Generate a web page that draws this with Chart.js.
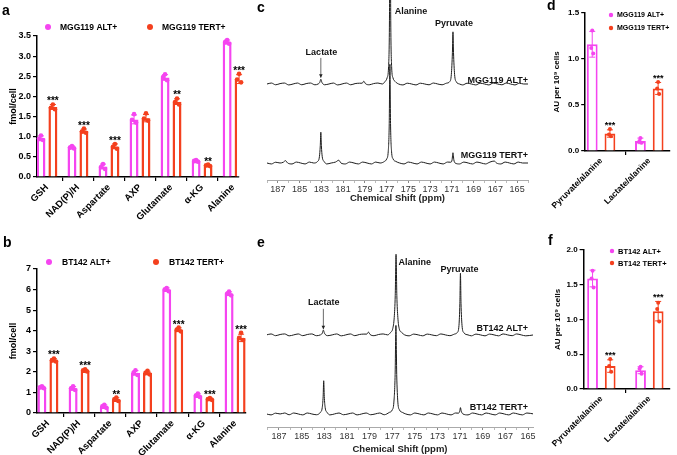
<!DOCTYPE html>
<html>
<head>
<meta charset="utf-8">
<script src="https://cdn.jsdelivr.net/npm/chart.js@4.4.1/dist/chart.umd.min.js"></script>
<style>
  body { margin: 0; background: #fff; }
  #wrap { position: relative; width: 677px; height: 455px; overflow: hidden; font-family: "Liberation Sans", Arial, sans-serif; }
  canvas { position: absolute; }
  .tag { position: absolute; font-weight: bold; font-size: 14px; line-height: 14px; color: #000; }
</style>
</head>
<body>
<div id="wrap">
  <canvas id="chartA" style="left:0;top:0" width="250" height="225"></canvas>
  <canvas id="chartB" style="left:0;top:225px" width="250" height="230"></canvas>
  <canvas id="chartC" style="left:250px;top:0" width="295" height="225"></canvas>
  <canvas id="chartE" style="left:250px;top:225px" width="295" height="230"></canvas>
  <canvas id="chartD" style="left:545px;top:0" width="132" height="225"></canvas>
  <canvas id="chartF" style="left:545px;top:225px" width="132" height="230"></canvas>
  <div class="tag" style="left:2px;top:3px">a</div>
  <div class="tag" style="left:3px;top:235px">b</div>
  <div class="tag" style="left:257px;top:0px">c</div>
  <div class="tag" style="left:547px;top:-2px">d</div>
  <div class="tag" style="left:257px;top:235px">e</div>
  <div class="tag" style="left:548px;top:233px">f</div>
</div>
<script>
// ---- data: metabolite levels (panels a, b) ----
var metCats = ['GSH', 'NAD(P)/H', 'Aspartate', 'AXP', 'Glutamate', 'α-KG', 'Alanine'];

var aAlt = [0.96, 0.74, 0.26, 1.43, 2.47, 0.40, 3.35];
var aTert = [1.74, 1.14, 0.76, 1.46, 1.87, 0.29, 2.43];
var aAltSd = [0.06, 0.03, 0.06, 0.11, 0.07, 0.02, 0.05];
var aTertSd = [0.06, 0.05, 0.06, 0.09, 0.07, 0.02, 0.11];
var aAltPts = [[1.03, 0.95, 0.92], [0.77, 0.73, 0.71], [0.32, 0.25, 0.20], [1.56, 1.42, 1.35], [2.55, 2.48, 2.40], [0.42, 0.40, 0.38], [3.40, 3.35, 3.31]];
var aTertPts = [[1.80, 1.72, 1.68], [1.20, 1.13, 1.10], [0.82, 0.75, 0.70], [1.58, 1.45, 1.40], [1.95, 1.86, 1.80], [0.31, 0.29, 0.27], [2.56, 2.42, 2.35]];
var aStars = ['***', '***', '***', '', '**', '**', '***'];

var bAlt = [1.25, 1.20, 0.32, 1.95, 6.00, 0.85, 5.80];
var bTert = [2.57, 2.07, 0.66, 1.95, 4.05, 0.68, 3.65];
var bAltSd = [0.05, 0.09, 0.07, 0.11, 0.08, 0.08, 0.09];
var bTertSd = [0.07, 0.05, 0.08, 0.08, 0.09, 0.04, 0.18];
var bAltPts = [[1.30, 1.25, 1.20], [1.30, 1.20, 1.12], [0.40, 0.32, 0.25], [2.08, 1.95, 1.85], [6.08, 6.00, 5.92], [0.95, 0.85, 0.78], [5.90, 5.80, 5.72]];
var bTertPts = [[2.65, 2.57, 2.50], [2.12, 2.07, 2.02], [0.75, 0.66, 0.58], [2.05, 1.95, 1.88], [4.15, 4.05, 3.97], [0.73, 0.68, 0.64], [3.90, 3.65, 3.55]];
var bStars = ['***', '***', '**', '', '***', '***', '***'];

// ---- data: ratios (panels d, f) ----
var ratioCats = ['Pyruvate/alanine', 'Lactate/alanine'];

var dAlt = [1.16, 0.11];
var dTert = [0.19, 0.68];
var dAltSd = [0.14, 0.03];
var dTertSd = [0.04, 0.065];
var dAltPts = [[1.31, 1.12, 1.06], [0.14, 0.11, 0.09]];
var dTertPts = [[0.24, 0.18, 0.16], [0.75, 0.68, 0.62]];
var dStars = ['***', '***'];

var fAlt = [1.59, 0.27];
var fTert = [0.33, 1.12];
var fAltSd = [0.12, 0.05];
var fTertSd = [0.09, 0.14];
var fAltPts = [[1.70, 1.59, 1.46], [0.32, 0.29, 0.22]];
var fTertPts = [[0.43, 0.33, 0.25], [1.24, 1.15, 0.97]];
var fStars = ['***', '***'];

// ---- data: 13C spectra, [ppm, intensity above own baseline] (panels c, e) ----
var cAltSpec = [[188.0, 0.00], [187.6, 0.012], [187.2, -0.01], [186.8, 0.005], [186.4, 0.012], [186.0, -0.012], [185.6, 0.00], [185.2, 0.012], [184.8, -0.01], [184.4, 0.005], [184.0, 0.012], [183.6, -0.01], [183.3, 0.00], [183.15, 0.02], [183.05, 0.06], [182.95, 0.02], [182.7, -0.01], [182.3, 0.00], [181.9, 0.012], [181.5, -0.012], [181.1, 0.00], [180.7, 0.012], [180.3, -0.01], [179.9, 0.005], [179.5, 0.01], [179.25, 0.01], [179.1, 0.035], [178.95, 0.005], [178.6, -0.01], [178.2, 0.005], [177.8, 0.012], [177.4, 0.00], [177.15, 0.03], [176.95, 0.08], [176.82, 0.22], [176.74, 0.8], [176.68, 2.4], [176.62, 0.8], [176.54, 0.22], [176.42, 0.08], [176.2, 0.03], [175.9, 0.00], [175.5, -0.012], [175.1, 0.01], [174.7, 0.00], [174.3, -0.012], [173.9, 0.01], [173.5, 0.00], [173.1, -0.01], [172.7, 0.012], [172.3, 0.00], [171.9, -0.01], [171.5, 0.01], [171.2, 0.03], [171.05, 0.12], [170.95, 0.4], [170.9, 0.66], [170.85, 0.4], [170.75, 0.12], [170.6, 0.03], [170.3, 0.00], [170.0, -0.012], [169.6, 0.01], [169.2, 0.00], [168.8, -0.012], [168.4, 0.01], [168.0, 0.00], [167.6, -0.012], [167.2, 0.012], [166.8, 0.00], [166.4, -0.01], [166.0, 0.012], [165.6, 0.00], [165.2, -0.012], [164.8, 0.01], [164.4, 0.00], [164.0, 0.00]];
var cTertSpec = [[188.0, 0.00], [187.6, -0.012], [187.2, 0.01], [186.8, 0.00], [186.5, 0.01], [186.3, 0.03], [186.1, 0.00], [185.7, -0.012], [185.3, 0.012], [184.9, 0.00], [184.5, -0.012], [184.1, 0.012], [183.7, 0.00], [183.35, 0.02], [183.18, 0.08], [183.1, 0.22], [183.05, 0.39], [183.0, 0.22], [182.92, 0.08], [182.75, 0.02], [182.5, -0.012], [182.1, 0.00], [181.7, 0.012], [181.4, 0.035], [181.2, 0.00], [180.8, -0.012], [180.4, 0.012], [180.0, 0.00], [179.6, -0.012], [179.2, 0.012], [178.8, 0.00], [178.4, -0.012], [178.0, 0.012], [177.6, 0.00], [177.2, 0.02], [177.0, 0.05], [176.85, 0.15], [176.76, 0.5], [176.7, 1.25], [176.64, 0.5], [176.55, 0.15], [176.4, 0.05], [176.15, 0.02], [175.8, 0.00], [175.4, -0.012], [175.0, 0.012], [174.6, 0.00], [174.2, -0.012], [173.8, 0.012], [173.4, 0.00], [173.0, -0.012], [172.6, 0.012], [172.2, 0.00], [171.8, -0.012], [171.4, 0.012], [171.1, 0.01], [170.98, 0.04], [170.9, 0.13], [170.82, 0.04], [170.7, 0.00], [170.3, -0.012], [169.9, 0.012], [169.5, 0.00], [169.1, -0.012], [168.7, 0.012], [168.3, 0.00], [167.9, -0.012], [167.5, 0.012], [167.1, 0.025], [166.9, 0.00], [166.5, -0.012], [166.1, 0.012], [165.7, 0.00], [165.3, -0.012], [164.9, 0.012], [164.5, 0.00], [164.0, 0.00]];

var eAltSpec = [[188.1, 0.00], [187.7, 0.012], [187.3, -0.01], [186.9, 0.005], [186.5, 0.012], [186.1, -0.012], [185.7, 0.00], [185.3, 0.012], [184.9, -0.01], [184.5, 0.005], [184.1, 0.012], [183.7, -0.01], [183.35, 0.00], [183.18, 0.02], [183.08, 0.06], [182.98, 0.02], [182.7, -0.01], [182.3, 0.00], [181.9, 0.012], [181.5, -0.012], [181.1, 0.00], [180.7, 0.012], [180.3, -0.01], [179.9, 0.005], [179.5, 0.01], [179.25, 0.01], [179.1, 0.035], [178.95, 0.005], [178.6, -0.01], [178.2, 0.005], [177.8, 0.012], [177.4, 0.00], [177.15, 0.03], [176.95, 0.08], [176.82, 0.22], [176.73, 0.5], [176.66, 1.02], [176.59, 0.5], [176.5, 0.22], [176.38, 0.08], [176.15, 0.03], [175.9, 0.00], [175.5, -0.012], [175.1, 0.01], [174.7, 0.00], [174.3, -0.012], [173.9, 0.01], [173.5, 0.00], [173.1, -0.01], [172.7, 0.012], [172.3, 0.00], [171.9, -0.01], [171.5, 0.01], [171.25, 0.03], [171.1, 0.12], [171.02, 0.4], [170.97, 0.78], [170.92, 0.4], [170.83, 0.12], [170.68, 0.03], [170.3, 0.00], [170.0, -0.012], [169.6, 0.01], [169.2, 0.00], [168.8, -0.012], [168.4, 0.01], [168.0, 0.00], [167.6, -0.012], [167.2, 0.012], [166.8, 0.00], [166.4, -0.01], [166.0, 0.012], [165.6, 0.00], [165.2, -0.012], [164.5, 0.00]];
var eTertSpec = [[188.1, 0.00], [187.7, -0.012], [187.3, 0.01], [186.9, 0.00], [186.5, 0.012], [186.1, -0.01], [185.7, 0.012], [185.3, 0.00], [184.9, -0.012], [184.5, 0.012], [184.1, 0.00], [183.7, -0.01], [183.35, 0.02], [183.18, 0.08], [183.1, 0.22], [183.05, 0.42], [183.0, 0.22], [182.92, 0.08], [182.75, 0.02], [182.5, -0.012], [182.1, 0.00], [181.7, 0.012], [181.3, -0.01], [180.9, 0.00], [180.5, 0.012], [180.1, -0.012], [179.7, 0.00], [179.3, 0.012], [178.9, -0.01], [178.5, 0.00], [178.1, 0.012], [177.7, -0.01], [177.25, 0.02], [177.0, 0.05], [176.85, 0.15], [176.74, 0.5], [176.67, 1.12], [176.6, 0.5], [176.5, 0.15], [176.35, 0.05], [176.1, 0.02], [175.8, 0.00], [175.4, -0.012], [175.0, 0.012], [174.6, 0.00], [174.2, -0.012], [173.8, 0.012], [173.4, 0.00], [173.0, -0.012], [172.6, 0.012], [172.2, 0.00], [171.8, -0.012], [171.4, 0.012], [171.15, 0.01], [171.03, 0.035], [170.97, 0.08], [170.9, 0.035], [170.75, 0.00], [170.3, -0.012], [169.9, 0.012], [169.5, 0.00], [169.1, -0.012], [168.7, 0.012], [168.3, 0.00], [167.9, -0.012], [167.5, 0.012], [167.1, 0.00], [166.7, -0.012], [166.3, 0.012], [165.9, 0.00], [165.5, -0.012], [165.1, 0.012], [164.5, 0.00]];
var specOffset = 1.0; // ALT+ trace is stacked one unit above TERT+

var ALT = '#f545f0';
var TERT = '#f4401e';
var FONT = '"Liberation Sans", Arial, sans-serif';
var jitter = [0, -1, 1];

Chart.defaults.font.family = FONT;
Chart.defaults.color = '#000';

function pairs(vals) {
  return vals.map(function (v, i) { return { x: i, y: v }; });
}

// error bars, replicate dots, significance stars and legend for the bar panels
function barExtras(o) {
  return {
    id: 'barExtras',
    afterDatasetsDraw: function (chart) {
      var ctx = chart.ctx, ys = chart.scales.y;
      var cols = [ALT, TERT];
      ctx.save();
      [0, 1].forEach(function (d) {
        var meta = chart.getDatasetMeta(d);
        var data = chart.data.datasets[d].data;
        meta.data.forEach(function (bar, i) {
          var v = data[i].y, sd = o.sd[d][i], pts = o.pts[d][i];
          var top = ys.getPixelForValue(v + sd), bot = ys.getPixelForValue(v - sd);
          ctx.strokeStyle = cols[d];
          ctx.lineWidth = 1;
          ctx.beginPath();
          ctx.moveTo(bar.x, top); ctx.lineTo(bar.x, bot);
          ctx.moveTo(bar.x - o.cap, top); ctx.lineTo(bar.x + o.cap, top);
          ctx.moveTo(bar.x - o.cap, bot); ctx.lineTo(bar.x + o.cap, bot);
          ctx.stroke();
          ctx.fillStyle = cols[d];
          pts.forEach(function (p, k) {
            ctx.beginPath();
            ctx.arc(bar.x + jitter[k] * o.jit, ys.getPixelForValue(p), o.r, 0, Math.PI * 2);
            ctx.fill();
          });
          if (d === 1 && o.stars[i]) {
            var hi = Math.max(v + sd, Math.max.apply(null, pts));
            ctx.fillStyle = '#000';
            ctx.font = o.starFont;
            ctx.textAlign = 'center';
            ctx.textBaseline = 'alphabetic';
            ctx.fillText(o.stars[i], bar.x, ys.getPixelForValue(hi) + o.starDy);
          }
        });
      });
      o.legend.forEach(function (it, k) {
        ctx.fillStyle = cols[k];
        ctx.beginPath();
        ctx.arc(it.x, it.y, it.r, 0, Math.PI * 2);
        ctx.fill();
        ctx.fillStyle = '#000';
        ctx.font = o.legendFont;
        ctx.textAlign = 'left';
        ctx.textBaseline = 'middle';
        ctx.fillText(it.text, it.x + it.gap, it.y + 0.5);
      });
      ctx.restore();
    }
  };
}

function barChart(id, cats, alt, tert, opt) {
  return new Chart(document.getElementById(id), {
    type: 'bar',
    data: {
      datasets: [
        { label: opt.names[0], data: pairs(alt), backgroundColor: '#fff', borderColor: ALT, borderWidth: opt.bw,
          categoryPercentage: opt.catPct, barPercentage: opt.barPct },
        { label: opt.names[1], data: pairs(tert), backgroundColor: '#fff', borderColor: TERT, borderWidth: opt.bw,
          categoryPercentage: opt.catPct, barPercentage: opt.barPct }
      ]
    },
    options: {
      responsive: false,
      animation: false,
      devicePixelRatio: 1,
      layout: { padding: opt.pad },
      plugins: { legend: { display: false }, tooltip: { enabled: false } },
      scales: {
        x: {
          type: 'linear', min: opt.xMin, max: opt.xMax, offset: false,
          afterBuildTicks: function (s) { s.ticks = cats.map(function (c, i) { return { value: i }; }); },
          afterFit: function (s) { s.height = opt.xH; },
          ticks: { autoSkip: false, minRotation: 45, maxRotation: 45, padding: 1,
            font: { size: opt.xTickSize, weight: 'bold' }, color: '#000',
            callback: function (v) { return cats[v]; } },
          grid: { display: true, drawOnChartArea: false, tickLength: 4, color: '#000', lineWidth: 1.2 },
          border: { display: true, color: '#000', width: 1.5 }
        },
        y: {
          min: 0, max: opt.yMax,
          afterFit: function (s) { s.width = opt.yW; },
          ticks: { stepSize: opt.yStep, padding: 2, font: { size: opt.yTickSize, weight: 'bold' }, color: '#000',
            callback: opt.yFmt },
          grid: { display: true, drawOnChartArea: false, tickLength: 4, color: '#000', lineWidth: 1.2 },
          border: { display: true, color: '#000', width: 1.5 },
          title: { display: true, text: opt.yTitle, font: { size: opt.titleSize, weight: 'bold' }, color: '#000', padding: { top: 0, bottom: 2 } }
        }
      }
    },
    plugins: [barExtras(opt.extras)]
  });
}

var oneDec = function (v) { return v.toFixed(1); };
var intFmt = function (v) { return String(v); };

barChart('chartA', metCats, aAlt, aTert, {
  names: ['MGG119 ALT+', 'MGG119 TERT+'], bw: 2.5, catPct: 0.77, barPct: 0.75,
  pad: { left: 8, top: 36, right: 11, bottom: 0 }, xMin: -0.32, xMax: 6.19, xH: 48, yW: 29,
  yMax: 3.5, yStep: 0.5, yFmt: oneDec, xTickSize: 9.5, yTickSize: 9, titleSize: 9, yTitle: 'fmol/cell',
  extras: { sd: [aAltSd, aTertSd], pts: [aAltPts, aTertPts], stars: aStars, cap: 3, jit: 2, r: 2.3,
    starFont: 'bold 10px ' + FONT, starDy: 0,
    legendFont: 'bold 8.5px ' + FONT,
    legend: [{ x: 48, y: 27, r: 3, gap: 12, text: 'MGG119 ALT+' }, { x: 150, y: 27, r: 3, gap: 12, text: 'MGG119 TERT+' }] }
});

barChart('chartB', metCats, bAlt, bTert, {
  names: ['BT142 ALT+', 'BT142 TERT+'], bw: 2.5, catPct: 0.77, barPct: 0.75,
  pad: { left: 8, top: 44, right: 4, bottom: 0 }, xMin: -0.35, xMax: 6.35, xH: 42, yW: 29,
  yMax: 7, yStep: 1, yFmt: intFmt, xTickSize: 9.5, yTickSize: 9, titleSize: 9, yTitle: 'fmol/cell',
  extras: { sd: [bAltSd, bTertSd], pts: [bAltPts, bTertPts], stars: bStars, cap: 3, jit: 2, r: 2.3,
    starFont: 'bold 10px ' + FONT, starDy: 0,
    legendFont: 'bold 8.5px ' + FONT,
    legend: [{ x: 49, y: 37, r: 3, gap: 13, text: 'BT142 ALT+' }, { x: 156, y: 37, r: 3, gap: 13, text: 'BT142 TERT+' }] }
});

barChart('chartD', ratioCats, dAlt, dTert, {
  names: ['MGG119 ALT+', 'MGG119 TERT+'], bw: 2, catPct: 0.735, barPct: 0.61,
  pad: { left: 6, top: 13, right: 7, bottom: 0 }, xMin: -0.33, xMax: 1.43, xH: 74, yW: 33,
  yMax: 1.5, yStep: 0.5, yFmt: oneDec, xTickSize: 8.5, yTickSize: 8, titleSize: 8, yTitle: 'AU per 10⁹ cells',
  extras: { sd: [dAltSd, dTertSd], pts: [dAltPts, dTertPts], stars: dStars, cap: 3, jit: 1, r: 2,
    starFont: 'bold 9px ' + FONT, starDy: -1,
    legendFont: 'bold 7px ' + FONT,
    legend: [{ x: 66, y: 15, r: 2.2, gap: 6, text: 'MGG119 ALT+' }, { x: 66, y: 28, r: 2.2, gap: 6, text: 'MGG119 TERT+' }] }
});

barChart('chartF', ratioCats, fAlt, fTert, {
  names: ['BT142 ALT+', 'BT142 TERT+'], bw: 2, catPct: 0.735, barPct: 0.61,
  pad: { left: 6, top: 25, right: 7, bottom: 0 }, xMin: -0.37, xMax: 1.43, xH: 66, yW: 31,
  yMax: 2, yStep: 0.5, yFmt: oneDec, xTickSize: 8.5, yTickSize: 8, titleSize: 8, yTitle: 'AU per 10⁹ cells',
  extras: { sd: [fAltSd, fTertSd], pts: [fAltPts, fTertPts], stars: fStars, cap: 3, jit: 1, r: 2,
    starFont: 'bold 9px ' + FONT, starDy: -1,
    legendFont: 'bold 7.5px ' + FONT,
    legend: [{ x: 67, y: 26, r: 2.2, gap: 6, text: 'BT142 ALT+' }, { x: 67, y: 38, r: 2.2, gap: 6, text: 'BT142 TERT+' }] }
});

// ---- spectra ----
function specPoints(spec, offset) {
  return spec.map(function (p) { return { x: p[0], y: p[1] + offset }; });
}

function specLabels(items, arrow) {
  return {
    id: 'specLabels',
    afterDatasetsDraw: function (chart) {
      var ctx = chart.ctx, xs = chart.scales.x, ys = chart.scales.y;
      ctx.save();
      ctx.fillStyle = '#111';
      ctx.font = 'bold 9px ' + FONT;
      ctx.textBaseline = 'middle';
      items.forEach(function (t) {
        ctx.textAlign = t.align;
        ctx.fillText(t.text, xs.getPixelForValue(t.ppm), ys.getPixelForValue(t.y));
      });
      var ax = xs.getPixelForValue(arrow.ppm);
      var y1 = ys.getPixelForValue(arrow.from), y2 = ys.getPixelForValue(arrow.to);
      ctx.strokeStyle = '#444';
      ctx.lineWidth = 0.8;
      ctx.beginPath();
      ctx.moveTo(ax, y1); ctx.lineTo(ax, y2);
      ctx.stroke();
      ctx.fillStyle = '#222';
      ctx.beginPath();
      ctx.moveTo(ax - 1.8, y2 - 3.5); ctx.lineTo(ax + 1.8, y2 - 3.5); ctx.lineTo(ax, y2);
      ctx.closePath();
      ctx.fill();
      ctx.restore();
    }
  };
}

function specChart(id, alt, tert, opt) {
  var line = { borderColor: '#1c1c1c', borderWidth: 1, pointRadius: 0, cubicInterpolationMode: 'monotone', fill: false };
  return new Chart(document.getElementById(id), {
    type: 'line',
    data: {
      datasets: [
        Object.assign({ label: opt.names[0], data: specPoints(alt, specOffset) }, line),
        Object.assign({ label: opt.names[1], data: specPoints(tert, 0) }, line)
      ]
    },
    options: {
      responsive: false,
      animation: false,
      devicePixelRatio: 1,
      layout: { padding: opt.pad },
      plugins: { legend: { display: false }, tooltip: { enabled: false } },
      scales: {
        x: {
          type: 'linear', reverse: true, min: opt.xMin, max: opt.xMax,
          afterFit: function (s) { s.height = opt.xH; },
          ticks: { stepSize: 1, includeBounds: false, autoSkip: false, maxRotation: 0, padding: 1,
            font: { size: 9 }, color: '#333',
            callback: function (v) { return Math.round(v) % 2 === 1 ? String(v) : ''; } },
          grid: { display: true, drawOnChartArea: false, tickLength: 3,
            color: function (c) { return c.tick && Math.round(c.tick.value) % 2 === 1 ? '#888' : '#bbb'; } },
          border: { display: true, color: '#aaa', width: 1, dash: [2, 1] },
          title: { display: true, text: 'Chemical Shift (ppm)', font: { size: 9.5, weight: 'bold' }, color: '#222', padding: { top: 1, bottom: 0 } }
        },
        y: { display: false, min: opt.yMin, max: opt.yMax }
      }
    },
    plugins: [specLabels(opt.labels, opt.arrow)]
  });
}

specChart('chartC', cAltSpec, cTertSpec, {
  names: ['MGG119 ALT+', 'MGG119 TERT+'],
  pad: { left: 17, top: 0, right: 17, bottom: 21 }, xMin: 164, xMax: 188, xH: 24, yMin: -0.215, yMax: 2.063,
  labels: [
    { text: 'Alanine', ppm: 176.25, y: 1.915, align: 'left' },
    { text: 'Pyruvate', ppm: 170.8, y: 1.76, align: 'center' },
    { text: 'Lactate', ppm: 183.0, y: 1.40, align: 'center' },
    { text: 'MGG119 ALT+', ppm: 164.0, y: 1.05, align: 'right' },
    { text: 'MGG119 TERT+', ppm: 164.0, y: 0.09, align: 'right' }
  ],
  arrow: { ppm: 183.05, from: 1.33, to: 1.08 }
});

specChart('chartE', eAltSpec, eTertSpec, {
  names: ['BT142 ALT+', 'BT142 TERT+'],
  pad: { left: 17, top: 0, right: 12, bottom: 0 }, xMin: 164.56, xMax: 188.06, xH: 28, yMin: -0.165, yMax: 2.39,
  labels: [
    { text: 'Alanine', ppm: 176.45, y: 1.91, align: 'left' },
    { text: 'Pyruvate', ppm: 171.05, y: 1.83, align: 'center' },
    { text: 'Lactate', ppm: 183.05, y: 1.41, align: 'center' },
    { text: 'BT142 ALT+', ppm: 165.0, y: 1.08, align: 'right' },
    { text: 'BT142 TERT+', ppm: 165.0, y: 0.08, align: 'right' }
  ],
  arrow: { ppm: 183.08, from: 1.33, to: 1.07 }
});
</script>
</body>
</html>
